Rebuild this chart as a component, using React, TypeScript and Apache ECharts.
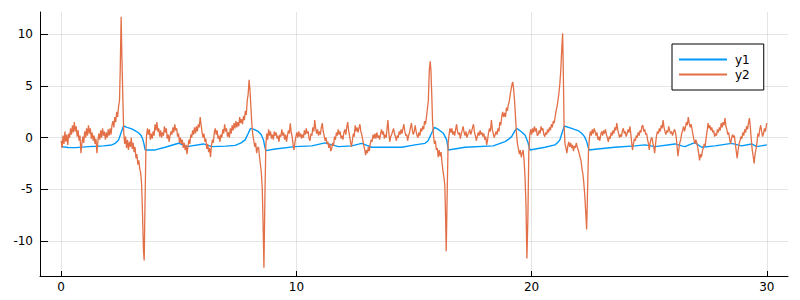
import React, { useEffect, useRef } from "react";
import * as echarts from "echarts";

const xTicks = [0, 10, 20, 30];
const yTicks = [-10, -5, 0, 5, 10];
const seriesNames = ["y1", "y2"];
const seriesColors = ["#009AFA", "#E36F47"];

const y1Points: number[][] = [
  [0,-0.87],[0.3,-0.95],[0.6,-0.97],[0.9,-0.92],[1.16,-0.87],[1.5,-0.84],[1.8,-0.8],[2.15,-0.71],[2.3,-0.55],[2.44,-0.22],[2.55,0.5],[2.65,1.13],[2.8,1.0],[3.0,0.85],[3.14,0.68],[3.3,0.45],[3.4,0.2],[3.46,-0.1],[3.52,-0.6],[3.57,-1.19],[4.0,-1.19],[4.42,-0.93],[4.99,-0.54],[5.34,-0.87],[6.05,-0.61],[6.4,-0.87],[7.0,-0.82],[7.4,-0.75],[7.65,-0.5],[7.82,-0.22],[7.95,0.4],[8.05,0.9],[8.2,0.8],[8.39,0.58],[8.5,0.3],[8.6,-0.22],[8.65,-0.8],[8.7,-1.26],[9.1,-1.1],[9.94,-0.87],[10.65,-0.8],[11.22,-0.5],[11.35,-0.6],[11.79,-0.87],[12.35,-0.8],[12.78,-0.55],[13.0,-0.75],[13.2,-0.93],[14.48,-0.93],[15.04,-0.7],[15.47,-0.55],[15.6,-0.3],[15.68,0.1],[15.8,0.7],[15.87,1.0],[16.0,0.85],[16.25,0.42],[16.39,-0.22],[16.46,-1.19],[17.17,-0.93],[18.37,-0.8],[18.87,-0.38],[19.0,-0.2],[19.15,0.1],[19.3,0.7],[19.37,0.9],[19.55,0.6],[19.72,0.26],[19.85,-0.5],[19.93,-1.19],[20.57,-0.93],[20.99,-0.7],[21.1,-0.5],[21.2,-0.22],[21.3,0.5],[21.39,1.13],[21.7,0.9],[22.0,0.65],[22.13,0.42],[22.25,0.1],[22.34,-0.38],[22.44,-1.19],[22.7,-1.12],[23.54,-0.93],[24.39,-0.8],[24.82,-0.7],[25.24,-0.87],[26.1,-0.61],[26.38,-0.8],[26.52,-0.87],[26.8,-0.6],[26.94,-0.48],[27.23,-0.93],[27.79,-0.8],[28.5,-0.55],[28.93,-0.8],[29.35,-0.61],[29.57,-0.87],[30.0,-0.7]
];

const y2Points: number[][] = [
  [0,-0.3],[0.04,-1.0],[0.08,0.2],[0.12,-0.6],[0.16,0.6],[0.2,-0.4],[0.24,0.3],[0.28,-0.7],[0.32,0.4],[0.36,0.0],[0.4,0.9],[0.44,0.3],[0.48,1.2],[0.52,0.5],[0.56,1.5],[0.6,0.6],[0.64,1.1],[0.68,0.1],[0.72,0.7],[0.76,-0.3],[0.8,0.2],[0.84,-1.5],[0.88,-0.6],[0.92,0.1],[0.96,-0.5],[1.0,0.6],[1.04,0.0],[1.08,0.9],[1.12,0.2],[1.16,1.2],[1.2,0.4],[1.24,0.9],[1.28,-0.1],[1.32,0.5],[1.36,-0.3],[1.4,0.2],[1.44,-0.6],[1.48,-0.1],[1.52,-1.5],[1.56,-0.4],[1.6,0.4],[1.64,-0.2],[1.68,0.7],[1.72,0.0],[1.76,0.9],[1.8,0.2],[1.84,0.6],[1.88,-0.2],[1.92,0.5],[1.96,0.0],[2.0,0.8],[2.04,0.2],[2.08,0.9],[2.12,0.3],[2.16,1.2],[2.2,1.6],[2.24,1.0],[2.28,2.0],[2.32,1.5],[2.36,2.5],[2.4,2.0],[2.44,3.0],[2.48,3.6],[2.51,6.5],[2.55,11.7],[2.58,8.0],[2.62,4.0],[2.66,0.5],[2.7,-0.6],[2.74,0.1],[2.78,-1.0],[2.82,-0.2],[2.86,-1.2],[2.9,-0.4],[2.94,-0.9],[2.98,0.0],[3.02,-1.1],[3.06,-0.5],[3.1,-1.4],[3.14,-0.9],[3.18,-2.0],[3.22,-1.6],[3.26,-2.6],[3.3,-2.2],[3.34,-3.0],[3.38,-3.4],[3.42,-4.5],[3.46,-7.5],[3.5,-11.0],[3.53,-11.9],[3.56,-7.0],[3.6,-1.5],
  [3.63,0.2],[3.67,0.9],[3.71,0.3],[3.75,0.8],[3.79,-0.2],[3.83,0.4],[3.87,-0.1],[3.91,0.6],[3.95,0.2],[3.99,1.3],[4.03,0.7],[4.07,1.5],[4.11,0.6],[4.15,0.9],[4.19,0.1],[4.23,0.7],[4.27,0.0],[4.31,0.5],[4.35,0.2],[4.39,1.1],[4.43,0.5],[4.47,0.9],[4.51,-0.1],[4.55,0.3],[4.59,-0.4],[4.63,0.2],[4.67,0.6],[4.71,0.3],[4.75,1.0],[4.79,0.5],[4.83,1.3],[4.87,0.7],[4.91,0.9],[4.95,0.1],[4.99,0.4],[5.03,-0.5],[5.07,0.0],[5.11,-0.6],[5.15,-0.2],[5.19,-1.0],[5.23,-0.5],[5.27,-1.2],[5.31,-0.7],[5.35,-1.6],[5.39,-0.9],[5.43,-0.2],[5.47,-0.6],[5.51,0.3],[5.55,0.0],[5.59,0.7],[5.63,0.3],[5.67,1.0],[5.71,0.4],[5.75,1.1],[5.79,0.6],[5.83,1.3],[5.87,1.0],[5.91,2.0],[5.95,1.2],[5.99,0.5],[6.03,0.0],[6.07,0.4],[6.11,-0.4],[6.15,-0.1],[6.19,-1.1],[6.23,-0.6],[6.27,-1.4],[6.31,-1.0],[6.35,-1.9],[6.39,-0.8],[6.43,-0.2],[6.47,-0.5],[6.51,0.5],[6.55,0.9],[6.59,0.3],[6.63,0.7],[6.67,-0.1],[6.71,0.2],[6.75,-0.4],[6.79,0.3],[6.83,0.0],[6.87,0.8],[6.91,0.4],[6.95,1.3],[6.99,0.6],[7.03,0.9],[7.07,0.1],[7.11,0.5],[7.15,0.0],[7.19,0.9],[7.23,0.4],[7.27,1.2],[7.31,0.7],[7.35,1.4],[7.39,0.9],
  [7.43,1.6],[7.47,1.0],[7.51,1.5],[7.55,1.1],[7.59,2.0],[7.63,1.4],[7.67,1.8],[7.71,1.3],[7.75,2.1],[7.79,1.7],[7.83,2.6],[7.87,2.2],[7.91,3.6],[7.95,4.2],[7.99,5.6],[8.03,4.5],[8.07,2.8],[8.11,1.2],[8.15,0.2],[8.19,-0.3],[8.23,-0.9],[8.27,-0.5],[8.31,-1.5],[8.35,-1.0],[8.39,-0.9],[8.43,-1.8],[8.47,-2.6],[8.51,-3.4],[8.55,-5.0],[8.59,-9.0],[8.62,-12.6],[8.66,-6.0],[8.7,-0.8],[8.74,0.4],
  [8.78,-0.2],[8.82,0.8],[8.86,0.2],[8.9,0.6],[8.94,-0.1],[8.98,0.3],[9.02,-0.2],[9.06,0.6],[9.1,0.2],[9.14,0.5],[9.18,-0.1],[9.22,0.2],[9.26,-0.4],[9.3,0.3],[9.34,0.1],[9.38,0.8],[9.42,0.2],[9.46,0.5],[9.5,-0.2],[9.54,0.3],[9.58,-0.4],[9.62,0.2],[9.66,0.7],[9.7,0.4],[9.74,1.4],[9.78,0.5],[9.82,0.1],[9.86,-0.7],[9.9,-1.2],[9.94,-0.4],[9.98,0.1],[10.02,0.5],[10.06,0.0],[10.1,0.6],[10.14,0.1],[10.18,0.4],[10.22,-0.1],[10.26,0.3],[10.3,0.0],[10.34,0.7],[10.38,0.3],[10.42,0.9],[10.46,0.4],[10.5,0.6],[10.54,-0.1],[10.58,-0.3],[10.62,0.4],[10.66,0.2],[10.7,1.0],[10.74,0.6],[10.78,1.7],[10.82,0.9],[10.86,0.4],[10.9,0.8],[10.94,0.2],[10.98,0.6],[11.02,0.3],[11.06,1.0],[11.1,1.4],[11.14,0.6],[11.18,0.2],[11.22,-0.3],
  [11.26,0.0],[11.3,-0.6],[11.34,-0.4],[11.38,-1.0],[11.42,-0.6],[11.46,-1.3],[11.5,-1.1],[11.54,-0.5],[11.58,-0.8],[11.62,0.1],[11.66,-0.2],[11.7,0.5],[11.74,0.2],[11.78,0.8],[11.82,0.3],[11.86,0.6],[11.9,-0.1],[11.94,0.2],[11.98,-0.2],[12.02,0.5],[12.06,0.8],[12.1,0.3],[12.14,1.0],[12.18,1.5],[12.22,0.7],[12.26,0.2],[12.3,-0.4],[12.34,-0.9],[12.38,-0.3],[12.42,0.4],[12.46,0.1],[12.5,1.2],[12.54,0.6],[12.58,1.0],[12.62,0.5],[12.66,0.9],[12.7,1.3],[12.74,0.6],[12.78,0.3],[12.82,-0.2],[12.86,-0.7],[12.9,-1.1],[12.94,-1.7],[12.98,-1.2],[13.02,-1.5],[13.06,-0.9],[13.1,-1.3],[13.14,-0.6],[13.18,-0.2],[13.22,-0.4],[13.26,0.3],[13.3,-0.1],[13.34,0.4],[13.38,-0.1],[13.42,0.5],[13.46,0.0],[13.5,0.2],[13.54,-0.2],[13.58,0.4],[13.62,0.8],[13.66,0.3],[13.7,0.6],[13.74,-0.1],[13.78,0.3],[13.82,0.0],[13.86,1.0],[13.89,1.7],[13.93,0.5],[13.97,-0.4],[14.01,0.1],[14.05,0.3],[14.09,0.6],[14.13,0.9],[14.17,0.4],[14.21,0.1],[14.25,-0.3],[14.29,0.2],[14.33,0.0],[14.37,0.6],[14.41,0.3],[14.45,0.8],[14.49,0.4],[14.53,0.9],[14.57,1.3],[14.61,0.6],[14.65,0.2],[14.69,0.3],[14.73,-0.3],[14.77,0.2],[14.81,0.5],[14.85,1.0],[14.89,1.4],[14.93,0.7],[14.97,0.3],[15.01,0.6],
  [15.05,1.2],[15.09,0.6],[15.13,0.2],[15.17,0.0],[15.21,0.5],[15.25,0.2],[15.29,0.9],[15.33,0.6],[15.37,1.1],[15.41,0.8],[15.45,1.6],[15.49,1.3],[15.53,2.0],[15.57,2.8],[15.61,3.6],[15.65,6.5],[15.69,7.4],[15.72,6.5],[15.75,4.5],[15.79,1.5],[15.83,0.2],[15.87,-0.6],[15.91,-0.3],[15.95,-1.2],[15.99,-1.0],[16.03,-1.9],[16.07,-1.2],[16.11,-1.8],[16.15,-1.4],[16.19,-2.4],[16.23,-3.2],[16.27,-3.8],[16.31,-4.6],[16.34,-7.5],[16.37,-11.0],[16.41,-5.5],[16.45,-0.6],[16.49,0.3],
  [16.53,0.9],[16.57,0.5],[16.61,0.9],[16.65,0.3],[16.69,0.6],[16.73,0.2],[16.77,0.8],[16.81,1.3],[16.85,0.6],[16.89,0.3],[16.93,0.5],[16.97,-0.1],[17.01,0.4],[17.05,0.7],[17.09,1.1],[17.13,0.5],[17.17,0.2],[17.21,0.6],[17.25,0.0],[17.29,0.3],[17.33,0.5],[17.37,0.8],[17.41,0.3],[17.45,0.6],[17.49,1.0],[17.53,1.3],[17.57,0.5],[17.61,0.2],[17.65,-0.3],[17.69,0.1],[17.73,0.5],[17.77,0.2],[17.81,0.7],[17.85,0.3],[17.89,0.5],[17.93,0.1],[17.97,0.4],[18.01,-0.2],[18.05,0.1],[18.09,-0.7],[18.13,-0.2],[18.17,0.5],[18.21,0.9],[18.25,0.6],[18.29,1.7],[18.33,0.8],[18.37,0.4],[18.41,0.0],[18.45,0.3],[18.49,0.6],[18.53,0.3],[18.57,0.9],[18.61,0.6],[18.65,1.5],[18.69,1.2],[18.73,2.0],[18.77,2.5],[18.81,2.0],[18.85,2.4],[18.89,2.0],[18.93,2.9],[18.97,2.6],[19.01,3.2],[19.05,3.5],[19.09,4.2],[19.13,4.7],[19.17,5.2],[19.2,5.4],[19.24,4.6],[19.28,3.4],[19.32,1.8],[19.36,0.3],[19.4,-0.6],[19.44,-1.1],[19.48,-1.6],[19.52,-1.2],[19.56,-1.9],[19.6,-1.5],[19.64,-1.2],[19.68,-2.2],[19.72,-3.8],[19.76,-6.5],[19.8,-11.7],[19.84,-8.0],[19.88,-1.5],[19.92,0.2],[19.96,0.8],
  [20.0,0.3],[20.04,0.9],[20.08,0.5],[20.12,1.1],[20.16,0.6],[20.2,0.9],[20.24,0.2],[20.28,0.3],[20.32,0.7],[20.36,0.4],[20.4,1.1],[20.44,0.7],[20.48,0.9],[20.52,0.3],[20.56,0.1],[20.6,0.5],[20.64,0.3],[20.68,0.8],[20.72,0.5],[20.76,1.0],[20.8,0.7],[20.84,1.3],[20.88,1.0],[20.92,1.6],[20.96,1.4],[21.0,2.0],[21.04,2.6],[21.08,3.0],[21.12,3.6],[21.16,4.3],[21.2,5.2],[21.24,6.5],[21.28,8.5],[21.32,10.1],[21.35,6.0],[21.38,1.2],[21.42,-0.6],[21.46,-1.0],[21.5,-1.5],[21.54,-0.8],[21.58,-0.4],[21.62,-0.9],[21.66,-0.5],[21.7,-1.0],[21.74,-0.7],[21.78,-1.3],[21.82,-0.8],[21.86,-1.0],[21.9,-0.5],[21.94,-0.9],[21.98,-1.2],[22.02,-1.5],[22.06,-1.9],[22.1,-2.2],[22.14,-3.0],[22.18,-3.5],[22.22,-4.4],[22.26,-5.6],[22.3,-7.2],[22.34,-8.9],[22.38,-5.0],[22.42,-1.2],[22.46,0.0],[22.5,0.6],[22.54,0.2],[22.58,0.8],[22.62,0.4],[22.66,0.9],[22.7,0.6],
  [22.74,0.2],[22.78,0.5],[22.82,-0.2],[22.86,0.1],[22.9,-0.3],[22.94,0.3],[22.98,0.6],[23.02,0.2],[23.06,0.7],[23.1,0.4],[23.14,0.8],[23.18,0.3],[23.22,0.0],[23.26,-0.4],[23.3,0.1],[23.34,-0.1],[23.38,0.5],[23.42,0.2],[23.46,0.7],[23.5,0.4],[23.54,1.0],[23.58,0.7],[23.62,1.4],[23.66,0.8],[23.7,0.4],[23.74,0.0],[23.78,0.3],[23.82,0.1],[23.86,0.7],[23.9,0.9],[23.94,0.4],[23.98,0.6],[24.02,0.1],[24.06,0.4],[24.1,0.8],[24.14,0.5],[24.18,1.1],[24.22,0.3],[24.26,-0.6],[24.29,-1.2],[24.33,-0.6],[24.37,-0.1],[24.41,-0.3],[24.45,0.2],[24.49,0.0],[24.53,0.5],[24.57,0.2],[24.61,0.7],[24.65,0.5],[24.69,1.1],[24.73,1.2],[24.77,0.6],[24.81,0.8],[24.85,0.3],[24.89,0.4],[24.93,-0.2],[24.97,-0.6],[25.0,-1.2],[25.04,-0.5],[25.08,-0.1],[25.12,0.0],[25.16,-0.6],[25.2,-1.0],[25.23,-1.5],[25.27,-0.6],[25.31,0.2],[25.35,0.6],[25.39,0.4],[25.43,0.9],[25.47,0.6],[25.51,1.2],[25.55,0.9],[25.59,1.7],[25.63,1.0],[25.67,0.6],[25.71,0.3],[25.75,0.7],[25.79,0.5],[25.83,1.1],[25.87,0.7],[25.91,0.4],[25.95,0.6],[25.99,0.2],[26.03,0.5],[26.07,0.8],[26.11,0.6],[26.15,0.0],[26.19,-1.0],[26.22,-1.8],[26.26,-1.1],[26.3,-0.5],[26.34,-0.2],[26.38,0.4],[26.42,0.7],[26.46,1.1],[26.5,0.6],
  [26.54,1.0],[26.58,1.5],[26.62,1.2],[26.66,2.0],[26.7,1.4],[26.74,1.0],[26.78,1.3],[26.82,0.8],[26.86,0.3],[26.9,-0.2],[26.94,-0.6],[26.98,-0.2],[27.02,-0.5],[27.06,-0.9],[27.1,-1.5],[27.14,-2.2],[27.18,-1.6],[27.22,-1.9],[27.26,-1.3],[27.3,-1.0],[27.34,-0.6],[27.38,-0.8],[27.42,0.0],[27.46,0.6],[27.5,1.4],[27.54,0.9],[27.58,1.2],[27.62,0.7],[27.66,1.0],[27.7,0.5],[27.74,0.7],[27.78,0.1],[27.82,0.4],[27.86,0.2],[27.9,0.8],[27.94,0.5],[27.98,1.0],[28.02,0.7],[28.06,1.4],[28.1,1.0],[28.14,1.5],[28.18,1.2],[28.22,1.9],[28.26,1.1],[28.3,0.8],[28.34,0.3],[28.38,0.5],[28.42,-0.2],[28.46,-0.6],[28.5,-0.1],[28.54,0.3],[28.58,0.0],[28.62,0.2],[28.66,-0.6],[28.7,-1.3],[28.74,-2.0],[28.78,-1.2],[28.82,-0.6],[28.86,-0.3],[28.9,0.1],[28.94,-0.1],[28.98,0.5],[29.02,0.2],[29.06,0.8],[29.1,0.5],[29.14,1.1],[29.18,0.8],[29.22,1.4],[29.26,1.9],[29.3,1.0],[29.34,-0.2],[29.38,-1.2],[29.42,-1.8],[29.46,-2.5],[29.5,-1.6],[29.54,-1.1],[29.58,-0.5],[29.62,0.4],[29.66,0.1],[29.7,0.8],[29.74,1.2],[29.78,0.6],[29.82,0.1],[29.86,0.4],[29.9,0.9],[29.94,0.6],[29.98,1.2],[30.0,1.4]
];

const FONT = "DejaVu Sans";

export default function App() {
  const ref = useRef<HTMLDivElement>(null);
  useEffect(() => {
    document.body.style.margin = "0";
    if (!ref.current) return;
    const chart = echarts.init(ref.current, null, { renderer: "svg" });
    chart.setOption({
      animation: false,
      backgroundColor: "#ffffff",
      grid: { left: 40, right: 12, top: 12, bottom: 24, containLabel: false },
      xAxis: {
        type: "value",
        min: -0.9,
        max: 30.9,
        axisLine: { show: true, onZero: false, lineStyle: { color: "#000", width: 1 } },
        axisTick: { show: true, inside: true, length: 5, customValues: xTicks, lineStyle: { color: "#000" } },
        axisLabel: { customValues: xTicks, margin: 5, color: "#000", fontFamily: FONT, fontSize: 12 },
        splitLine: { show: true, lineStyle: { color: "rgba(0,0,0,0.1)", width: 1 } },
      },
      yAxis: {
        type: "value",
        min: -13.4,
        max: 12.17,
        axisLine: { show: true, onZero: false, lineStyle: { color: "#000", width: 1 } },
        axisTick: { show: true, inside: true, length: 8, customValues: yTicks, lineStyle: { color: "#000" } },
        axisLabel: { customValues: yTicks, margin: 7, color: "#000", fontFamily: FONT, fontSize: 12 },
        splitLine: { show: true, lineStyle: { color: "rgba(0,0,0,0.1)", width: 1 } },
      },
      legend: {
        orient: "vertical",
        left: 672,
        top: 44,
        padding: [8, 14, 8, 7],
        itemGap: 0,
        itemWidth: 48,
        itemHeight: 2,
        icon: "rect",
        backgroundColor: "#fff",
        borderColor: "#000",
        borderWidth: 1,
        borderRadius: 0,
        textStyle: { fontFamily: FONT, fontSize: 12, color: "#000", lineHeight: 15, padding: [0, 0, 0, 3] },
        data: seriesNames,
      },
      series: [
        {
          name: seriesNames[0],
          type: "line",
          data: y1Points,
          showSymbol: false,
          symbol: "none",
          lineStyle: { color: seriesColors[0], width: 1.4 },
          itemStyle: { color: seriesColors[0] },
          z: 2,
        },
        {
          name: seriesNames[1],
          type: "line",
          data: y2Points,
          showSymbol: false,
          symbol: "none",
          lineStyle: { color: seriesColors[1], width: 1.3 },
          itemStyle: { color: seriesColors[1] },
          z: 3,
        },
      ],
    });
    return () => chart.dispose();
  }, []);
  return <div ref={ref} style={{ width: 800, height: 300 }} />;
}
